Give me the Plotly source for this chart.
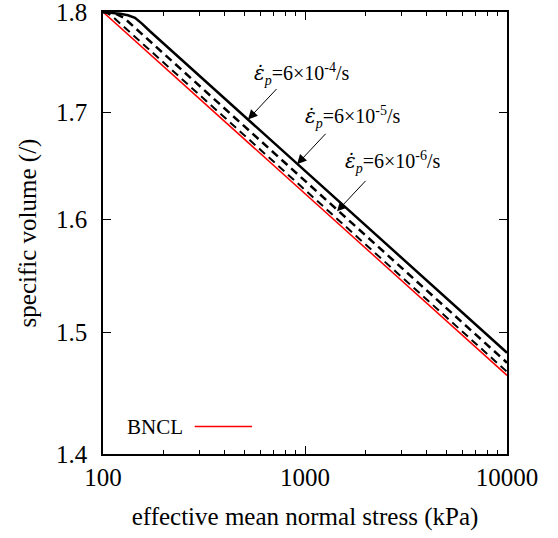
import math
import plotly.graph_objects as go

# ---- data (both axes logarithmic) ----
p_bncl = [100, 10000]
v_bncl = [1.800, 1.464]

p_r4 = [100, 108.3, 121.4, 132.9, 144.0, 155.9, 170.8, 10000]
v_r4 = [1.8000, 1.7994, 1.7981, 1.7966, 1.7941, 1.7882, 1.7804, 1.4830]

p_r5 = [100, 108.3, 117.3, 127.0, 136.0, 10000]
v_r5 = [1.8000, 1.7992, 1.7976, 1.7940, 1.7885, 1.4746]

p_r6 = [100, 103.5, 110.8, 10000]
v_r6 = [1.8000, 1.7996, 1.7958, 1.4670]

rate_labels = ["6\u00d710<sup>-4</sup>/s", "6\u00d710<sup>-5</sup>/s", "6\u00d710<sup>-6</sup>/s"]
arrow_p = [522, 913, 1440]
arrow_v = [1.6933, 1.6507, 1.6071]
label_p = [966, 1728, 2727]
label_v = [1.7374, 1.6954, 1.6525]

x_ticks = [100, 1000, 10000]
x_minor = [200, 300, 400, 500, 600, 700, 800, 900,
           2000, 3000, 4000, 5000, 6000, 7000, 8000, 9000]
y_ticks = [1.4, 1.5, 1.6, 1.7, 1.8]

FONT = "Liberation Serif, Times New Roman, serif"
EPS = '<span style="font-family:DejaVu Serif">\u03b5\u0307</span>'

fig = go.Figure()
fig.add_trace(go.Scatter(x=p_bncl, y=v_bncl, mode="lines", name="BNCL",
                         line=dict(color="#ff0000", width=1.5), showlegend=False))
fig.add_trace(go.Scatter(x=p_r6, y=v_r6, mode="lines", name="6e-6",
                         line=dict(color="black", width=2, dash="8px,5px"), showlegend=False))
fig.add_trace(go.Scatter(x=p_r5, y=v_r5, mode="lines", name="6e-5",
                         line=dict(color="black", width=2.5, dash="8px,5px"), showlegend=False))
fig.add_trace(go.Scatter(x=p_r4, y=v_r4, mode="lines", name="6e-4",
                         line=dict(color="black", width=2.5), showlegend=False))

for i in range(3):
    fig.add_annotation(x=math.log10(arrow_p[i]), y=math.log10(arrow_v[i]), xref="x", yref="y",
                       text="", showarrow=True, ax=30, ay=-32,
                       arrowhead=2, arrowsize=1.9, arrowwidth=1, arrowcolor="black")
    fig.add_annotation(x=math.log10(label_p[i]), y=math.log10(label_v[i]), xref="x", yref="y",
                       text="<i>" + EPS + "</i><sub><i>p</i></sub>=" + rate_labels[i],
                       showarrow=False, font=dict(family=FONT, size=20, color="black"))

# key (text then line, gnuplot style)
fig.add_annotation(x=0.055, y=0.062, xref="paper", yref="paper", text="BNCL",
                   showarrow=False, xanchor="left", yanchor="middle",
                   font=dict(family=FONT, size=21, color="black"))
fig.add_shape(type="line", xref="paper", yref="paper", x0=0.227, x1=0.369, y0=0.062, y1=0.062,
              line=dict(color="#ff0000", width=1.5))

fig.update_layout(
    width=558, height=538,
    margin=dict(l=103, r=51, t=12, b=84),
    paper_bgcolor="white", plot_bgcolor="white",
    font=dict(family=FONT, size=25, color="black"),
    showlegend=False,
)
fig.update_xaxes(
    type="log", range=[2, 4], automargin=False,
    tickvals=x_ticks, ticktext=[str(t) for t in x_ticks],
    ticks="inside", ticklen=8, tickwidth=1.2, tickcolor="black",
    minor=dict(tickvals=x_minor, ticks="inside", ticklen=4, tickwidth=1.2, tickcolor="black", showgrid=False),
    showline=True, linecolor="black", linewidth=1.5, mirror="allticks",
    showgrid=False, zeroline=False, ticklabeloverflow="allow",
    title=dict(text="effective mean normal stress (kPa)", standoff=18,
               font=dict(family=FONT, size=25)),
    tickfont=dict(family=FONT, size=25),
)
fig.update_yaxes(
    type="log", range=[math.log10(1.4), math.log10(1.8)], automargin=False,
    tickvals=y_ticks, ticktext=["%.1f" % t for t in y_ticks],
    ticks="inside", ticklen=8, tickwidth=1.2, tickcolor="black",
    showline=True, linecolor="black", linewidth=1.5, mirror="allticks",
    showgrid=False, zeroline=False, ticklabelstandoff=9, ticklabeloverflow="allow",
    title=dict(text="specific volume (/)", standoff=12,
               font=dict(family=FONT, size=25)),
    tickfont=dict(family=FONT, size=25),
)

fig.write_html("out.html")
